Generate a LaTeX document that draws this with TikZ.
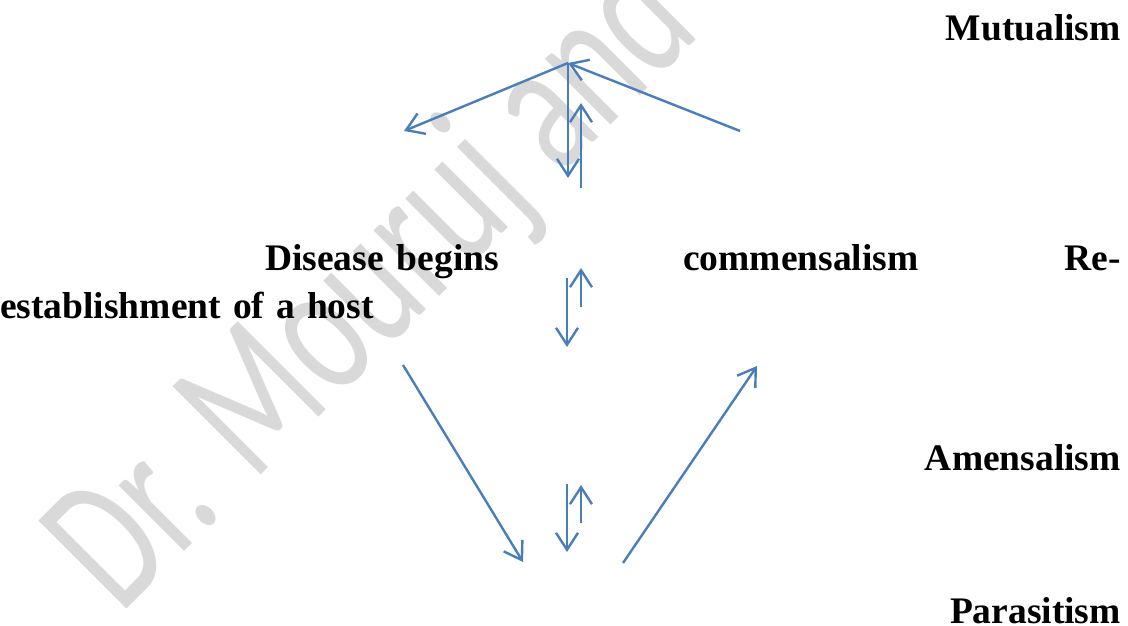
\documentclass[tikz,border=0pt]{standalone}
\usepackage{fontspec}
\setmainfont{Liberation Serif}
\newfontfamily\wmfont{Carlito}
\usetikzlibrary{arrows.meta}
\definecolor{arrowblue}{RGB}{74,126,187}
\definecolor{wmgray}{RGB}{217,217,217}
\begin{document}
\begin{tikzpicture}[x=1pt,y=-1pt,
  lbl/.style={inner sep=0pt, font=\fontsize{37.5}{44}\selectfont\bfseries},
  conn/.style={draw=arrowblue, line width=2.4pt, -{Straight Barb[length=17pt,width=22pt]}}]
\useasboundingbox (0,0) rectangle (1128,626);
\clip (0,0) rectangle (1128,626);
% watermark
\begin{scope}[shift={(120.5,615.5)}, rotate=45, yscale=1.46]
  \node[transform shape, anchor=base west, inner sep=0pt, text=wmgray,
        font=\wmfont\fontsize{133}{133}\selectfont] (wm) at (0,0) {Dr. Mouruj and};
\end{scope}
% labels
\node[lbl, anchor=base east] (mut) at (1121,41) {Mutualism};
\node[lbl, anchor=base west] (dis) at (265,270) {Disease\hskip 13pt begins};
\node[lbl, anchor=base west] (com) at (683,270) {commensalism};
\node[lbl, anchor=base east] (re) at (1121,270) {Re-};
\node[lbl, anchor=base west] (est) at (0,318) {establishment\hskip 12pt of\hskip 12pt a\hskip 12pt host};
\node[lbl, anchor=base east] (ame) at (1121,470) {Amensalism};
\node[lbl, anchor=base east] (par) at (1121,623) {Parasitism};
% coordinates
\coordinate (apex) at (568,63);
\coordinate (tl) at (404,131);
\coordinate (tr) at (740,131);
\coordinate (v1e) at (568,178);
\coordinate (v2s) at (581,188);
\coordinate (v2e) at (581,103);
\coordinate (m1s) at (567,278);
\coordinate (m1e) at (567,347);
\coordinate (m2s) at (581,307);
\coordinate (m2e) at (581,268);
\coordinate (b1s) at (567,484);
\coordinate (b1e) at (567,552);
\coordinate (b2s) at (581,523);
\coordinate (b2e) at (581,485);
\coordinate (dl) at (403,365);
\coordinate (dle) at (523,562);
\coordinate (ur) at (623,563);
\coordinate (ure) at (757,366);
% connectors
\draw[conn] (apex) -- (tl);
\draw[conn] (tr) -- (apex);
\draw[conn] (apex) -- (v1e);
\draw[conn] (v2s) -- (v2e);
\draw[conn] (m1s) -- (m1e);
\draw[conn] (m2s) -- (m2e);
\draw[conn] (b1s) -- (b1e);
\draw[conn] (b2s) -- (b2e);
\draw[conn] (dl) -- (dle);
\draw[conn] (ur) -- (ure);
\end{tikzpicture}
\end{document}
